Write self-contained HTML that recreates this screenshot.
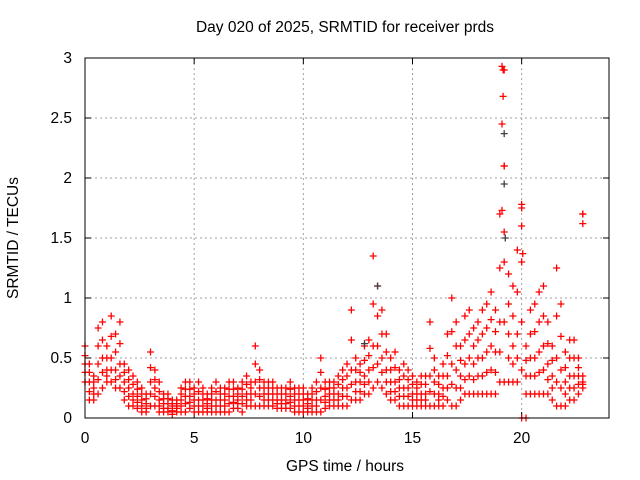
<!DOCTYPE html>
<html><head><meta charset="utf-8"><style>
body{margin:0;background:#fff}
svg{display:block;font-family:"Liberation Sans",sans-serif;font-size:15.5px}
</style></head><body>
<svg id="c" width="640" height="480">
<text x="345" y="32" text-anchor="middle">Day 020 of 2025, SRMTID for receiver prds</text>
<text x="345" y="471" text-anchor="middle">GPS time / hours</text>
<text transform="translate(18,238) rotate(-90)" text-anchor="middle">SRMTID / TECUs</text>
<g id="grid"></g>
<g id="ticks"></g>
<g id="pts"></g>
<rect x="85" y="58" width="524" height="360" fill="none" stroke="#000" stroke-width="1"/>
</svg>
<script>
const xTicks=[0,5,10,15,20];
const yTicks=[0,0.5,1,1.5,2,2.5,3];
const yTickLabels=["0","0.5","1","1.5","2","2.5","3"];
const timeStep=0.2;
const hiVals=[0.6,0.45,0.35,0.75,0.8,0.6,0.85,0.7,0.8,0.45,
0.4,0.35,0.3,0.25,0.2,0.55,0.4,0.3,0.2,0.2,
0.15,0.15,0.25,0.3,0.3,0.25,0.3,0.25,0.2,0.25,
0.3,0.25,0.25,0.3,0.3,0.25,0.3,0.35,0.3,0.6,
0.4,0.3,0.3,0.3,0.25,0.25,0.25,0.3,0.25,0.25,
0.25,0.2,0.25,0.3,0.5,0.3,0.3,0.3,0.35,0.4,
0.45,0.9,0.5,0.45,0.6,0.65,1.35,1.1,0.9,0.7,
0.5,0.55,0.4,0.45,0.4,0.35,0.3,0.35,0.35,0.8,
0.5,0.35,0.45,0.7,1.0,0.8,0.6,0.85,0.9,0.75,
0.8,0.9,0.95,1.05,0.9,1.7,2.9,1.2,1.1,1.4,
1.75,0.6,0.9,0.95,1.05,1.1,0.8,0.6,1.25,0.95,
0.55,0.65,0.65,0.5,1.7];
const q3Vals=[0.52,0.38,0.3,0.6,0.65,0.5,0.68,0.55,0.62,0.38,
0.32,0.28,0.24,0.2,0.16,0.42,0.32,0.22,0.16,0.16,
0.12,0.12,0.2,0.24,0.24,0.2,0.22,0.2,0.16,0.2,
0.22,0.2,0.2,0.24,0.24,0.2,0.24,0.28,0.25,0.45,
0.32,0.25,0.25,0.25,0.2,0.2,0.2,0.24,0.2,0.2,
0.2,0.16,0.2,0.22,0.38,0.24,0.25,0.25,0.28,0.32,
0.35,0.65,0.4,0.38,0.48,0.52,0.95,0.85,0.7,0.55,
0.4,0.42,0.32,0.35,0.32,0.28,0.25,0.28,0.28,0.58,
0.4,0.28,0.35,0.52,0.72,0.6,0.48,0.65,0.7,0.6,
0.65,0.7,0.75,0.82,0.72,1.25,2.1,0.95,0.85,1.05,
1.3,0.48,0.7,0.72,0.8,0.85,0.62,0.48,0.85,0.68,
0.42,0.5,0.5,0.42,0.35];
const midVals=[0.45,0.3,0.25,0.45,0.5,0.4,0.5,0.4,0.45,0.3,
0.25,0.2,0.18,0.15,0.12,0.3,0.25,0.15,0.12,0.12,
0.1,0.1,0.15,0.18,0.18,0.15,0.15,0.15,0.12,0.15,
0.15,0.15,0.15,0.18,0.18,0.15,0.18,0.2,0.2,0.3,
0.25,0.2,0.2,0.2,0.15,0.15,0.15,0.18,0.15,0.15,
0.15,0.12,0.15,0.15,0.25,0.18,0.2,0.2,0.2,0.25,
0.25,0.4,0.3,0.3,0.35,0.4,0.6,0.6,0.5,0.4,
0.3,0.3,0.25,0.25,0.25,0.2,0.2,0.2,0.2,0.35,
0.3,0.2,0.25,0.35,0.45,0.4,0.35,0.45,0.5,0.45,
0.5,0.5,0.55,0.6,0.55,0.8,1.3,0.7,0.6,0.7,
0.8,0.35,0.5,0.5,0.55,0.6,0.45,0.35,0.5,0.4,
0.3,0.35,0.35,0.35,0.3];
const q1Vals=[0.38,0.22,0.2,0.32,0.38,0.35,0.4,0.32,0.35,0.22,
0.18,0.15,0.13,0.1,0.08,0.2,0.18,0.1,0.08,0.08,
0.06,0.08,0.1,0.12,0.13,0.1,0.1,0.1,0.08,0.1,
0.1,0.1,0.1,0.12,0.13,0.12,0.12,0.15,0.15,0.2,
0.18,0.15,0.15,0.15,0.12,0.12,0.12,0.13,0.1,0.1,
0.1,0.08,0.1,0.1,0.15,0.13,0.15,0.15,0.15,0.18,
0.18,0.28,0.22,0.22,0.28,0.3,0.42,0.45,0.38,0.3,
0.22,0.22,0.18,0.18,0.18,0.15,0.15,0.15,0.15,0.22,
0.2,0.15,0.18,0.25,0.28,0.25,0.25,0.32,0.35,0.32,
0.35,0.35,0.38,0.4,0.38,0.55,0.8,0.5,0.45,0.5,
0.4,0.2,0.35,0.35,0.38,0.4,0.32,0.25,0.3,0.25,
0.2,0.25,0.25,0.28,0.28];
const loVals=[0.3,0.15,0.15,0.2,0.25,0.3,0.3,0.25,0.25,0.15,
0.1,0.1,0.08,0.05,0.05,0.1,0.1,0.05,0.05,0.05,
0.03,0.05,0.05,0.05,0.08,0.05,0.05,0.05,0.05,0.05,
0.05,0.05,0.05,0.05,0.08,0.08,0.05,0.1,0.1,0.1,
0.1,0.1,0.1,0.1,0.08,0.08,0.08,0.08,0.05,0.05,
0.05,0.05,0.05,0.05,0.05,0.08,0.1,0.1,0.1,0.1,
0.1,0.15,0.15,0.15,0.2,0.2,0.25,0.3,0.25,0.2,
0.15,0.15,0.1,0.1,0.1,0.1,0.1,0.1,0.1,0.1,
0.1,0.1,0.1,0.15,0.1,0.1,0.15,0.2,0.2,0.2,
0.2,0.2,0.2,0.2,0.2,0.3,0.3,0.3,0.3,0.3,
0.0,0.0,0.2,0.2,0.2,0.2,0.2,0.15,0.1,0.1,
0.1,0.15,0.15,0.2,0.25];
const spikeTimes=[19.1,19.15,19.15,19.1,19.2,19.1,19.2,20.0,20.0,20.05,22.8,22.8];
const spikeVals=[2.93,2.9,2.68,2.45,2.1,1.73,1.55,1.78,1.6,1.37,1.7,1.62];
const darkTimes=[19.2,19.2,19.25,13.4,12.8];
const darkVals=[2.37,1.95,1.5,1.1,0.62];

const X0=85,X1=609,Y0=418,Y1=58;
const xs=h=>X0+h/24*(X1-X0);
const ys=v=>Y0-v/3*(Y0-Y1);
const NS="http://www.w3.org/2000/svg";
function mk(tag,attrs,parent){const e=document.createElementNS(NS,tag);for(const k in attrs)e.setAttribute(k,attrs[k]);parent.appendChild(e);return e;}
const grid=document.getElementById('grid'),ticks=document.getElementById('ticks'),pts=document.getElementById('pts');
xTicks.forEach(t=>{
  const x=xs(t);
  if(t>0){const g=mk('line',{x1:x,x2:x,y1:Y1,y2:Y0,stroke:'#a0a0a0','stroke-dasharray':'2,3'},grid);
  
  }
  mk('line',{x1:x,x2:x,y1:Y0,y2:Y0-6,stroke:'#000'},ticks);
  mk('line',{x1:x,x2:x,y1:Y1,y2:Y1+6,stroke:'#000'},ticks);
  const l=mk('text',{x:x,y:443,'text-anchor':'middle'},ticks);l.textContent=t;
  
  
});
yTicks.forEach((t,i)=>{
  const y=ys(t);
  if(t>0&&t<3){const g=mk('line',{x1:X0,x2:X1,y1:y,y2:y,stroke:'#a0a0a0','stroke-dasharray':'2,3'},grid);
  
  }
  mk('line',{x1:X0,x2:X0+6,y1:y,y2:y,stroke:'#000'},ticks);
  mk('line',{x1:X1,x2:X1-6,y1:y,y2:y,stroke:'#000'},ticks);
  const l=mk('text',{x:72,y:y+5,'text-anchor':'end'},ticks);l.textContent=yTickLabels[i];
  
  
});
function plus(h,v,col){
  const x=xs(h),y=ys(v);
  const p=mk('path',{d:`M${x-3.5},${y}h7M${x},${y-3.5}v7`,stroke:col,'stroke-width':1.3,fill:'none'},pts);
  
  
}
[hiVals,q3Vals,midVals,q1Vals,loVals].forEach(arr=>arr.forEach((v,i)=>plus(i*timeStep,v,'#ff0000')));
darkTimes.forEach((t,i)=>plus(t,darkVals[i],'#404040'));
spikeTimes.forEach((t,i)=>plus(t,spikeVals[i],'#ff0000'));
</script>
</body></html>
